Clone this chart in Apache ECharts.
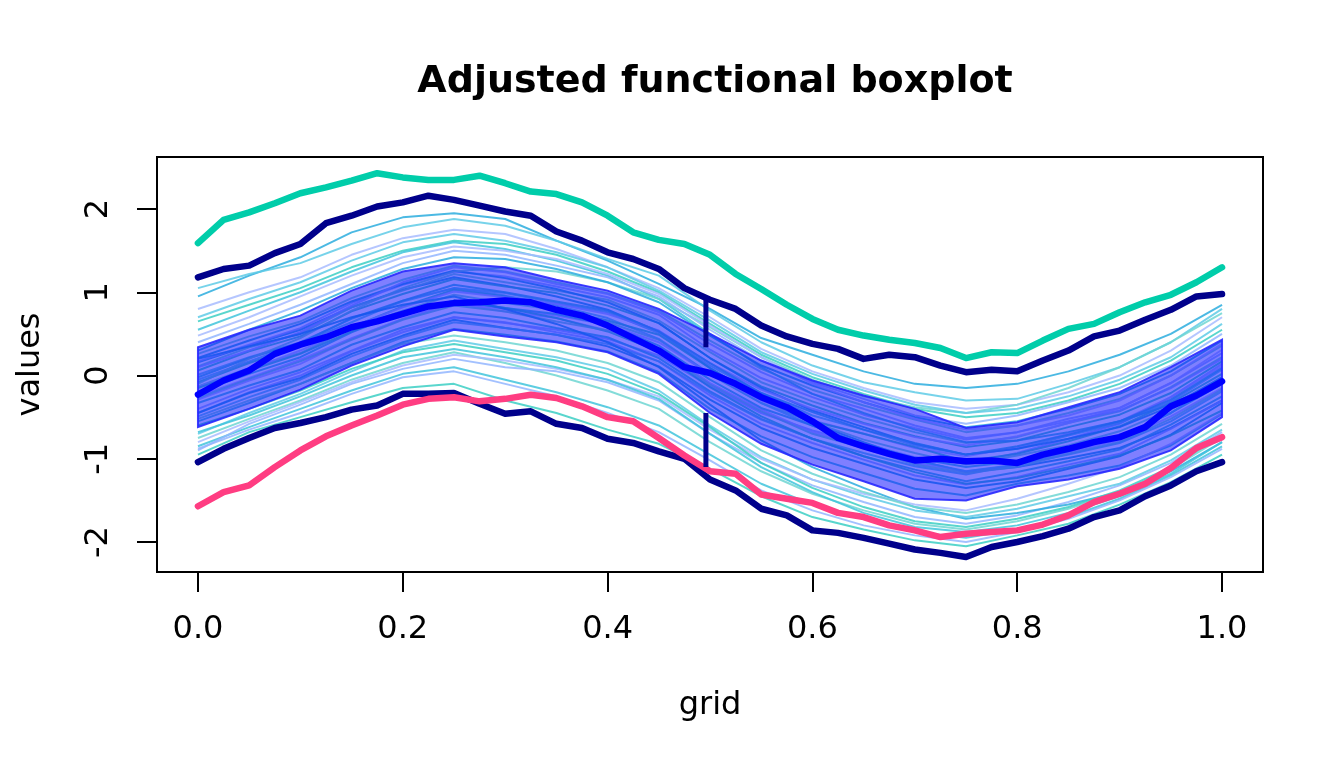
<!DOCTYPE html>
<html>
<head>
<meta charset="utf-8">
<script src="https://cdn.jsdelivr.net/npm/echarts@6/dist/echarts.min.js"></script>
<style>html,body{margin:0;padding:0;background:#fff}#c{width:1344px;height:768px}</style>
</head>
<body>
<div id="c"></div>
<script>
// ---- data ----
const titleText = 'Adjusted functional boxplot';
const xTicks = [0, 0.2, 0.4, 0.6, 0.8, 1.0];
const yTicks = [-2, -1, 0, 1, 2];
const grid21 = [0,0.05,0.1,0.15,0.2,0.25,0.3,0.35,0.4,0.45,0.5,0.55,0.6,0.65,0.7,0.75,0.8,0.85,0.9,0.95,1.0];
const grid41 = [0,0.025,0.05,0.075,0.1,0.125,0.15,0.175,0.2,0.225,0.25,0.275,0.3,0.325,0.35,0.375,0.4,0.425,0.45,0.475,0.5,0.525,0.55,0.575,0.6,0.625,0.65,0.675,0.7,0.725,0.75,0.775,0.8,0.825,0.85,0.875,0.9,0.925,0.95,0.975,1.0];

const medianCurve = [-0.23,-0.06,0.06,0.26,0.37,0.46,0.58,0.65,0.74,0.83,0.87,0.88,0.90,0.88,0.79,0.72,0.60,0.45,0.30,0.10,0.03,-0.10,-0.26,-0.38,-0.55,-0.75,-0.85,-0.94,-1.02,-1.00,-1.03,-1.02,-1.05,-0.95,-0.88,-0.80,-0.74,-0.62,-0.37,-0.24,-0.07];
const upperEnvelope = [1.18,1.28,1.32,1.47,1.58,1.83,1.92,2.03,2.08,2.16,2.11,2.04,1.97,1.92,1.73,1.62,1.48,1.40,1.28,1.05,0.91,0.80,0.60,0.47,0.38,0.32,0.20,0.25,0.22,0.12,0.04,0.07,0.05,0.18,0.30,0.47,0.54,0.67,0.79,0.95,0.98];
const lowerEnvelope = [-1.04,-0.88,-0.75,-0.63,-0.57,-0.50,-0.41,-0.36,-0.22,-0.22,-0.21,-0.34,-0.46,-0.43,-0.58,-0.63,-0.76,-0.81,-0.91,-1.00,-1.25,-1.38,-1.60,-1.68,-1.86,-1.89,-1.95,-2.02,-2.09,-2.13,-2.18,-2.06,-2.00,-1.93,-1.84,-1.70,-1.62,-1.45,-1.32,-1.15,-1.04];
const outlierHigh = [1.59,1.87,1.96,2.07,2.19,2.26,2.34,2.43,2.38,2.35,2.35,2.40,2.31,2.21,2.18,2.08,1.92,1.72,1.63,1.58,1.45,1.22,1.04,0.85,0.68,0.55,0.48,0.43,0.39,0.33,0.21,0.28,0.27,0.42,0.56,0.62,0.76,0.88,0.97,1.12,1.30];
const outlierLow = [-1.57,-1.40,-1.32,-1.10,-0.90,-0.73,-0.60,-0.48,-0.35,-0.28,-0.26,-0.31,-0.28,-0.23,-0.27,-0.37,-0.50,-0.55,-0.75,-0.96,-1.15,-1.18,-1.43,-1.48,-1.53,-1.65,-1.70,-1.80,-1.86,-1.94,-1.90,-1.88,-1.86,-1.79,-1.68,-1.52,-1.42,-1.30,-1.11,-0.87,-0.74];

const bandUpper = [0.34,0.55,0.72,1.02,1.25,1.35,1.30,1.15,1.02,0.80,0.50,0.18,-0.06,-0.24,-0.40,-0.63,-0.56,-0.38,-0.20,0.10,0.43];
const bandLower = [-0.62,-0.40,-0.17,0.12,0.35,0.55,0.47,0.40,0.28,0.02,-0.45,-0.82,-1.07,-1.27,-1.48,-1.50,-1.33,-1.25,-1.12,-0.90,-0.50];

const whiskerX = 0.496;
const whiskerUpper = [0.91, 0.34];
const whiskerLower = [-0.45, -1.10];

const thinCurves = [
 [-0.55,-0.33,-0.10,0.15,0.40,0.56,0.49,0.41,0.29,0.04,-0.40,-0.73,-0.98,-1.17,-1.36,-1.44,-1.30,-1.20,-1.08,-0.84,-0.46],
 [0.26,0.47,0.65,0.93,1.15,1.32,1.25,1.12,0.99,0.78,0.42,0.08,-0.17,-0.36,-0.53,-0.68,-0.60,-0.45,-0.28,0.00,0.36],
 [-0.45,-0.20,0.00,0.29,0.52,0.70,0.63,0.55,0.44,0.24,-0.13,-0.45,-0.66,-0.82,-0.98,-1.06,-0.93,-0.76,-0.58,-0.26,0.14],
 [0.16,0.36,0.55,0.82,1.03,1.18,1.08,0.95,0.79,0.53,0.09,-0.28,-0.57,-0.80,-1.01,-1.16,-1.10,-0.99,-0.87,-0.63,-0.30],
 [-0.05,0.17,0.39,0.64,0.90,1.05,0.99,0.87,0.76,0.51,0.12,-0.21,-0.48,-0.65,-0.84,-0.95,-0.88,-0.72,-0.57,-0.31,0.07],
 [-0.25,-0.03,0.19,0.45,0.68,0.87,0.77,0.69,0.54,0.33,-0.09,-0.41,-0.68,-0.85,-1.05,-1.15,-1.08,-0.92,-0.78,-0.49,-0.15],
 [0.06,0.29,0.47,0.77,0.98,1.16,1.07,0.99,0.84,0.63,0.21,-0.13,-0.36,-0.57,-0.73,-0.86,-0.78,-0.62,-0.47,-0.21,0.17],
 [-0.33,-0.12,0.07,0.37,0.58,0.76,0.69,0.57,0.46,0.21,-0.19,-0.52,-0.76,-0.97,-1.13,-1.27,-1.16,-1.03,-0.89,-0.59,-0.25],
 [-0.13,0.09,0.27,0.57,0.78,0.97,0.87,0.79,0.64,0.43,0.01,-0.33,-0.56,-0.77,-0.93,-1.07,-0.96,-0.84,-0.67,-0.41,-0.03],
 [0.17,0.37,0.57,0.87,1.09,1.25,1.19,1.07,0.94,0.73,0.31,-0.03,-0.26,-0.47,-0.63,-0.77,-0.68,-0.52,-0.39,-0.09,0.27],
 [-0.45,-0.21,-0.03,0.26,0.48,0.67,0.57,0.49,0.35,0.11,-0.29,-0.63,-0.87,-1.06,-1.25,-1.35,-1.27,-1.12,-0.97,-0.71,-0.33],
 [0.01,0.22,0.40,0.68,0.89,1.05,0.96,0.84,0.69,0.44,0.02,-0.33,-0.60,-0.82,-1.02,-1.15,-1.07,-0.95,-0.81,-0.55,-0.19],
 [-0.29,-0.06,0.14,0.44,0.68,0.87,0.80,0.72,0.61,0.40,0.02,-0.30,-0.54,-0.70,-0.87,-0.97,-0.86,-0.70,-0.55,-0.26,0.11],
 [-0.08,0.15,0.35,0.58,0.83,1.03,0.95,0.80,0.66,0.49,0.09,-0.28,-0.55,-0.70,-0.86,-1.03,-0.94,-0.79,-0.61,-0.33,0.02],
 [-0.20,0.02,0.22,0.52,0.76,0.90,0.81,0.74,0.61,0.36,-0.05,-0.39,-0.60,-0.83,-0.99,-1.10,-1.03,-0.87,-0.73,-0.45,-0.10],
 [0.11,0.34,0.50,0.82,1.02,1.22,1.12,1.02,0.91,0.66,0.28,-0.08,-0.31,-0.51,-0.68,-0.81,-0.74,-0.57,-0.43,-0.14,0.22],
 [-0.40,-0.16,0.04,0.30,0.55,0.70,0.64,0.52,0.41,0.17,-0.24,-0.58,-0.81,-1.01,-1.20,-1.31,-1.22,-1.07,-0.94,-0.64,-0.30],
 [0.21,0.42,0.62,0.89,1.10,1.26,1.17,1.04,0.88,0.63,0.21,-0.15,-0.42,-0.62,-0.82,-0.95,-0.88,-0.76,-0.62,-0.37,-0.02],
 [-0.49,-0.26,-0.05,0.23,0.46,0.64,0.57,0.49,0.38,0.17,-0.21,-0.53,-0.76,-0.93,-1.09,-1.19,-1.07,-0.91,-0.74,-0.45,-0.05],
 [-0.14,0.07,0.30,0.58,0.82,1.01,0.94,0.86,0.74,0.54,0.15,-0.17,-0.40,-0.58,-0.74,-0.84,-0.73,-0.57,-0.39,-0.09,0.31],
 [-0.15,0.06,0.26,0.53,0.75,0.90,0.81,0.69,0.53,0.29,-0.14,-0.49,-0.76,-0.97,-1.16,-1.30,-1.23,-1.10,-0.96,-0.72,-0.42],
 [-0.02,0.21,0.39,0.69,0.90,1.09,1.00,0.89,0.78,0.53,0.15,-0.21,-0.44,-0.65,-0.81,-0.95,-0.85,-0.71,-0.55,-0.29,0.09],
 [-0.27,-0.04,0.17,0.43,0.67,0.84,0.77,0.65,0.54,0.30,-0.11,-0.43,-0.70,-0.87,-1.07,-1.17,-1.10,-0.94,-0.80,-0.52,-0.17],
 [0.10,0.30,0.52,0.84,1.12,1.30,1.24,1.10,0.98,0.76,0.38,0.04,-0.22,-0.40,-0.60,-0.75,-0.68,-0.55,-0.42,-0.15,0.20],
 [0.95,1.20,1.42,1.72,1.90,1.95,1.88,1.62,1.38,1.10,0.80,0.45,0.25,0.05,-0.10,-0.15,-0.10,0.05,0.25,0.50,0.85],
 [1.05,1.22,1.35,1.58,1.78,1.88,1.80,1.62,1.40,1.20,0.78,0.40,0.12,-0.08,-0.20,-0.30,-0.28,-0.10,0.10,0.40,0.80],
 [0.80,1.00,1.18,1.45,1.65,1.75,1.70,1.52,1.30,1.05,0.70,0.32,0.05,-0.15,-0.32,-0.40,-0.35,-0.20,0.00,0.30,0.70],
 [0.65,0.85,1.05,1.30,1.50,1.62,1.58,1.45,1.25,1.00,0.62,0.25,-0.02,-0.22,-0.40,-0.50,-0.45,-0.30,-0.10,0.18,0.55],
 [0.55,0.78,1.00,1.25,1.48,1.60,1.52,1.38,1.20,0.92,0.50,0.10,-0.22,-0.45,-0.65,-0.80,-0.78,-0.68,-0.55,-0.35,-0.05],
 [-0.10,0.20,0.45,0.78,1.05,1.25,1.30,1.25,1.12,0.92,0.58,0.22,-0.05,-0.25,-0.38,-0.45,-0.35,-0.15,0.10,0.40,0.75],
 [0.40,0.62,0.85,1.10,1.35,1.50,1.45,1.32,1.18,0.95,0.55,0.18,-0.08,-0.28,-0.48,-0.58,-0.48,-0.32,-0.15,0.12,0.50],
 [0.30,0.55,0.78,1.05,1.28,1.42,1.40,1.28,1.12,0.88,0.48,0.12,-0.12,-0.32,-0.50,-0.62,-0.55,-0.40,-0.22,0.05,0.42],
 [0.70,0.92,1.12,1.38,1.60,1.70,1.62,1.48,1.30,1.02,0.66,0.28,0.02,-0.18,-0.35,-0.45,-0.40,-0.25,-0.05,0.22,0.62],
 [0.48,0.70,0.95,1.20,1.42,1.55,1.50,1.40,1.22,0.98,0.60,0.22,-0.10,-0.32,-0.52,-0.65,-0.60,-0.48,-0.30,0.00,0.38],
 [-0.95,-0.68,-0.50,-0.32,-0.15,-0.10,-0.30,-0.45,-0.65,-0.82,-1.12,-1.45,-1.70,-1.85,-1.98,-2.05,-1.92,-1.78,-1.55,-1.28,-0.95],
 [-0.85,-0.62,-0.40,-0.18,0.02,0.10,-0.05,-0.20,-0.38,-0.60,-0.95,-1.30,-1.55,-1.72,-1.88,-1.95,-1.85,-1.70,-1.48,-1.20,-0.85],
 [-0.75,-0.52,-0.30,-0.05,0.15,0.28,0.15,0.00,-0.18,-0.40,-0.80,-1.15,-1.42,-1.62,-1.78,-1.85,-1.75,-1.60,-1.40,-1.12,-0.75],
 [-0.90,-0.58,-0.35,-0.10,0.08,0.20,0.10,0.05,-0.08,-0.30,-0.70,-1.05,-1.32,-1.52,-1.70,-1.78,-1.68,-1.52,-1.32,-1.05,-0.68],
 [0.20,0.35,0.50,0.70,0.85,0.95,0.80,0.62,0.40,0.10,-0.35,-0.78,-1.10,-1.35,-1.58,-1.72,-1.65,-1.55,-1.40,-1.15,-0.80],
 [-0.70,-0.45,-0.22,0.05,0.30,0.42,0.32,0.22,0.08,-0.18,-0.60,-0.98,-1.25,-1.45,-1.62,-1.70,-1.60,-1.45,-1.30,-1.02,-0.65],
 [-0.80,-0.55,-0.32,-0.08,0.12,0.25,0.18,0.08,-0.05,-0.25,-0.65,-1.00,-1.25,-1.42,-1.55,-1.62,-1.48,-1.30,-1.10,-0.82,-0.45],
 [-0.60,-0.40,-0.18,0.08,0.28,0.38,0.28,0.18,0.02,-0.22,-0.62,-1.05,-1.35,-1.58,-1.75,-1.82,-1.72,-1.58,-1.38,-1.10,-0.72],
 [-0.68,-0.48,-0.25,0.00,0.22,0.32,0.22,0.10,-0.05,-0.28,-0.70,-1.10,-1.40,-1.65,-1.82,-1.88,-1.80,-1.65,-1.45,-1.18,-0.80],
 [-0.52,-0.30,-0.10,0.15,0.38,0.48,0.40,0.30,0.15,-0.08,-0.50,-0.90,-1.18,-1.40,-1.58,-1.65,-1.55,-1.40,-1.22,-0.95,-0.58],
 [-0.88,-0.65,-0.45,-0.22,-0.02,0.05,-0.10,-0.25,-0.45,-0.68,-1.02,-1.38,-1.62,-1.80,-1.92,-2.00,-1.88,-1.72,-1.50,-1.22,-0.88]
];
const thinColors = ['#41c4dc','#6fd6d2','#93b6ff','#2badde','#5fcbe6','#a8bcff','#3ccfc4'];

// ---- chart ----
const pairs = (xs, ys) => xs.map((x, i) => [x, ys[i]]);
const FONT = 'DejaVu Sans';
const series = [];
thinCurves.forEach((c, i) => {
  series.push({type:'line', data:pairs(grid21, c), symbol:'none', silent:true,
    lineStyle:{color:thinColors[i % thinColors.length], width:2, opacity:0.85}, z:1});
});
// central 50% region as a polygon through the axis coordinates
series.push({type:'custom', silent:true, z:2, clip:true,
  data: grid21.map((x, i) => [x, bandLower[i], bandUpper[i]]),
  renderItem: function (params, api) {
    if (params.dataIndex !== 0) return null;
    const pts = [];
    for (let i = 0; i < grid21.length; i++) pts.push(api.coord([grid21[i], bandUpper[i]]));
    for (let i = grid21.length - 1; i >= 0; i--) pts.push(api.coord([grid21[i], bandLower[i]]));
    return {type:'polygon', shape:{points:pts},
      style:{fill:'rgba(0,0,255,0.5)', stroke:'rgba(40,40,255,0.9)', lineWidth:2}};
  }
});
const thick = (ys, color) => ({type:'line', data:pairs(grid41, ys), symbol:'none', silent:true,
  lineStyle:{color:color, width:6.5, cap:'round', join:'round'}, z:4});
series.push(thick(upperEnvelope, '#00008b'));
series.push(thick(lowerEnvelope, '#00008b'));
series.push(thick(outlierHigh, '#00cdaa'));
series.push(thick(outlierLow, '#ff3d82'));
series.push(thick(medianCurve, '#0000ff'));
series.push({type:'line', data:whiskerUpper.map(v => [whiskerX, v]), symbol:'none', silent:true,
  lineStyle:{color:'#00008b', width:5}, z:4});
series.push({type:'line', data:whiskerLower.map(v => [whiskerX, v]), symbol:'none', silent:true,
  lineStyle:{color:'#00008b', width:5}, z:4});

const chart = echarts.init(document.getElementById('c'), null, {renderer:'canvas'});
chart.setOption({
  animation:false,
  backgroundColor:'#fff',
  title:{text:titleText, left:710, top:58, textAlign:'center',
    textStyle:{fontFamily:FONT, fontSize:38, fontWeight:'bold', color:'#000'}},
  grid:{left:157, right:81, top:157, bottom:196, show:true, borderColor:'#000', borderWidth:2, backgroundColor:'transparent'},
  xAxis:{type:'value', min:-0.04, max:1.04, name:'grid', nameLocation:'middle', nameGap:118,
    nameTextStyle:{fontFamily:FONT, fontSize:32, color:'#000'},
    axisLine:{show:false, onZero:false}, splitLine:{show:false},
    axisTick:{show:true, customValues:xTicks, length:20, lineStyle:{color:'#000', width:2}},
    axisLabel:{customValues:xTicks, formatter:v => v.toFixed(1), fontFamily:FONT, fontSize:32, color:'#000', margin:42}},
  yAxis:{type:'value', min:-2.36, max:2.625, name:'values', nameLocation:'middle', nameGap:110,
    nameTextStyle:{fontFamily:FONT, fontSize:32, color:'#000'},
    axisLine:{show:false, onZero:false}, splitLine:{show:false},
    axisTick:{show:true, customValues:yTicks, length:20, lineStyle:{color:'#000', width:2}},
    axisLabel:{customValues:yTicks, rotate:90, formatter:v => String(v), fontFamily:FONT, fontSize:32, color:'#000', margin:42}},
  series:series
});
</script>
</body>
</html>
